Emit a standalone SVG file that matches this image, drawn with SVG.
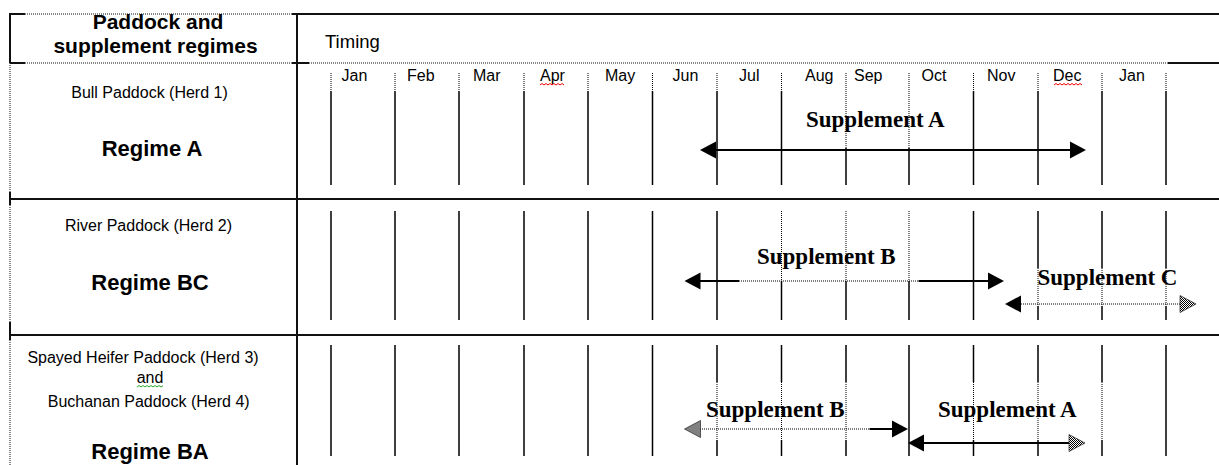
<svg xmlns="http://www.w3.org/2000/svg" width="1219" height="465" viewBox="0 0 1219 465">
<defs>
<pattern id="hatch" width="2" height="2" patternUnits="userSpaceOnUse"><rect width="2" height="2" fill="#fff"/><rect width="1" height="1" fill="#000"/><rect x="1" y="1" width="1" height="1" fill="#000"/></pattern>
<path id="ah" d="M0,0 L-16,-8.5 L-16,8.5 Z"/>
</defs>
<style>
.border{stroke:#111;stroke-width:2;fill:none}
.bdot{stroke:#111;stroke-width:1;stroke-dasharray:1 1;fill:none}
.grid{stroke:#000;stroke-width:1.5;fill:none}
.gdot{stroke:#000;stroke-width:1;stroke-dasharray:1 1;fill:none}
.lbl{font-family:"Liberation Sans",Arial,sans-serif;font-size:16px;fill:#000}
.mid{text-anchor:middle}
.hdr{font-family:"Liberation Sans",Arial,sans-serif;font-size:21px;font-weight:bold;text-anchor:middle;fill:#000}
.tim{font-family:"Liberation Sans",Arial,sans-serif;font-size:18.5px;fill:#000}
.reg{font-family:"Liberation Sans",Arial,sans-serif;font-size:22px;font-weight:bold;text-anchor:middle;fill:#000}
.sup{font-family:"Liberation Serif","Times New Roman",serif;font-size:23px;font-weight:bold;fill:#000}
.arr{stroke:#000;stroke-width:2;fill:none}
.arrdot{stroke:#000;stroke-width:1;stroke-dasharray:1 1;fill:none}
.head{fill:#000}
.hhead{fill:url(#hatch);stroke:#222;stroke-width:0.7}
.sqr{stroke:#e00;stroke-width:1;fill:none}
.sqg{stroke:#2a2;stroke-width:1;fill:none}
</style>
<rect width="1219" height="465" fill="#fff"/>

<g id="table">
  <line class="border" x1="10" y1="14" x2="25" y2="14"/>
  <line class="bdot" x1="25" y1="14" x2="292" y2="14"/>
  <line class="border" x1="292" y1="14" x2="1219" y2="14"/>
  <line class="border" x1="10" y1="63" x2="25" y2="63"/>
  <line class="bdot" x1="25" y1="63" x2="292" y2="63"/>
  <line class="border" x1="292" y1="63" x2="309" y2="63"/>
  <line class="bdot" x1="309" y1="63" x2="1168" y2="63"/>
  <line class="border" x1="1168" y1="63" x2="1219" y2="63"/>
  <line class="border" x1="10" y1="199" x2="1219" y2="199"/>
  <line class="border" x1="10" y1="335" x2="1219" y2="335"/>
  <line class="border" x1="10" y1="13" x2="10" y2="63"/>
  <line class="bdot" x1="10" y1="63" x2="10" y2="192"/>
  <line class="border" x1="10" y1="192" x2="10" y2="205"/>
  <line class="bdot" x1="10" y1="205" x2="10" y2="322"/>
  <line class="border" x1="10" y1="322" x2="10" y2="340"/>
  <line class="bdot" x1="10" y1="340" x2="10" y2="465"/>
  <line class="border" x1="297" y1="13" x2="297" y2="465"/>
</g>

<g id="header">
  <text class="hdr" x="158" y="29">Paddock and</text>
  <text class="hdr" x="155.5" y="53">supplement regimes</text>
  <text class="tim" x="325" y="48">Timing</text>
</g>

<g id="months">
  <text class="lbl" x="341.5" y="81">Jan</text>
  <text class="lbl" x="407" y="81">Feb</text>
  <text class="lbl" x="473" y="81">Mar</text>
  <text class="lbl" x="540" y="81">Apr</text>
  <text class="lbl" x="605" y="81">May</text>
  <text class="lbl" x="672.5" y="81">Jun</text>
  <text class="lbl" x="739" y="81">Jul</text>
  <text class="lbl" x="805" y="81">Aug</text>
  <text class="lbl" x="854" y="81">Sep</text>
  <text class="lbl" x="921.5" y="81">Oct</text>
  <text class="lbl" x="987" y="81">Nov</text>
  <text class="lbl" x="1053" y="81">Dec</text>
  <text class="lbl" x="1119" y="81">Jan</text>
  <path class="sqr" d="M540,85 l2,-1.5 l2,1.5 l2,-1.5 l2,1.5 l2,-1.5 l2,1.5 l2,-1.5 l2,1.5 l2,-1.5 l2,1.5 l2,-1.5 l2,1.5"/>
  <path class="sqr" d="M1054,85 l2,-1.5 l2,1.5 l2,-1.5 l2,1.5 l2,-1.5 l2,1.5 l2,-1.5 l2,1.5 l2,-1.5 l2,1.5 l2,-1.5 l2,1.5 l2,-1.5 l2,1.5"/>
</g>

<g id="grid-row1">
  <path class="gdot" d="M331,73V91 M395,73V91 M459,73V91 M524,73V91 M588,73V91 M652.5,73V91 M717,73V91 M781.5,73V91 M973.5,73V91 M1038,73V91 M1102,73V91 M1166,73V91 M846,73V148 M909,73V148"/>
  <path class="grid" d="M331,91V185 M395,91V185 M459,91V185 M524,91V185 M588,91V185 M652.5,91V185 M717,91V185 M781.5,91V185 M973.5,91V185 M1038,91V185 M1102,91V185 M1166,91V185 M846,148V185 M909,148V185"/>
</g>

<g id="grid-row2">
  <path class="grid" d="M331,211V320 M395,211V320 M459,211V320 M524,211V320 M588,211V320 M652.5,211V320 M717,211V320 M973.5,211V320 M781.5,281V320 M846,281V320 M909,281V320 M1038,211V268 M1102,211V268 M1166,211V268 M1038,306V320 M1102,306V320 M1166,306V320"/>
  <path class="gdot" d="M781.5,211V281 M846,211V281 M909,211V281 M1038,268V306 M1102,268V306 M1166,268V306"/>
</g>

<g id="grid-row3">
  <path class="grid" d="M331,345V456 M395,345V456 M459,345V456 M524,345V456 M588,345V456 M652.5,345V456 M909,345V456 M1166,345V456 M717,345V382 M781.5,345V382 M846,345V382 M973.5,345V382 M1038,345V382 M1102,345V382 M717,440V456 M781.5,440V456 M846,440V456 M973.5,440V456 M1038,440V456 M1102,440V456"/>
  <path class="gdot" d="M717,382V440 M781.5,382V440 M846,382V440 M973.5,382V440 M1038,382V440 M1102,382V440"/>
</g>

<g id="regime-a">
  <text class="lbl mid" x="149.5" y="98">Bull Paddock (Herd 1)</text>
  <text class="reg" x="152" y="156">Regime A</text>
</g>

<g id="regime-bc">
  <text class="lbl mid" x="148.5" y="231">River Paddock (Herd 2)</text>
  <text class="reg" x="150" y="290">Regime BC</text>
</g>

<g id="regime-ba">
  <text class="lbl mid" x="143" y="363">Spayed Heifer Paddock (Herd 3)</text>
  <text class="lbl mid" x="150" y="383">and</text>
  <path class="sqg" d="M137,387 l2,-1.5 l2,1.5 l2,-1.5 l2,1.5 l2,-1.5 l2,1.5 l2,-1.5 l2,1.5 l2,-1.5 l2,1.5 l2,-1.5 l2,1.5 l2,-1.5"/>
  <text class="lbl mid" x="148.7" y="407">Buchanan Paddock (Herd 4)</text>
  <text class="reg" x="150" y="459">Regime BA</text>
</g>

<g id="connectors">
  <g id="row1-supplement-a">
    <line class="arr" x1="714" y1="150" x2="1072" y2="150"/>
    <use href="#ah" class="head" transform="translate(700,150) rotate(180)"/>
    <use href="#ah" class="head" transform="translate(1086,150)"/>
    <text class="sup" x="806" y="127">Supplement A</text>
  </g>
  <g id="row2-supplement-b">
    <line class="arr" x1="698" y1="281" x2="739" y2="281"/>
    <line class="arrdot" x1="739" y1="281" x2="918.5" y2="281"/>
    <line class="arr" x1="918.5" y1="281" x2="990" y2="281"/>
    <use href="#ah" class="head" transform="translate(684.5,281) rotate(180)"/>
    <use href="#ah" class="head" transform="translate(1004,281)"/>
    <text class="sup" x="757" y="264">Supplement B</text>
  </g>
  <g id="row2-supplement-c">
    <line class="arrdot" x1="1019" y1="304" x2="1182" y2="304"/>
    <use href="#ah" class="head" transform="translate(1005,304) rotate(180)"/>
    <use href="#ah" class="hhead" transform="translate(1196,304)"/>
    <text class="sup" x="1037.5" y="285">Supplement C</text>
  </g>
  <g id="row3-supplement-b">
    <line class="arrdot" x1="700" y1="429" x2="869.5" y2="429"/>
    <line class="arr" x1="869.5" y1="429" x2="894" y2="429"/>
    <use href="#ah" class="hhead" transform="translate(684.5,429) rotate(180)"/>
    <use href="#ah" class="head" transform="translate(908,429)"/>
    <text class="sup" x="706" y="417">Supplement B</text>
  </g>
  <g id="row3-supplement-a">
    <line class="arr" x1="922" y1="443" x2="1071" y2="443"/>
    <use href="#ah" class="head" transform="translate(908,443) rotate(180)"/>
    <use href="#ah" class="hhead" transform="translate(1085,443)"/>
    <text class="sup" x="938" y="417">Supplement A</text>
  </g>
</g>
</svg>
